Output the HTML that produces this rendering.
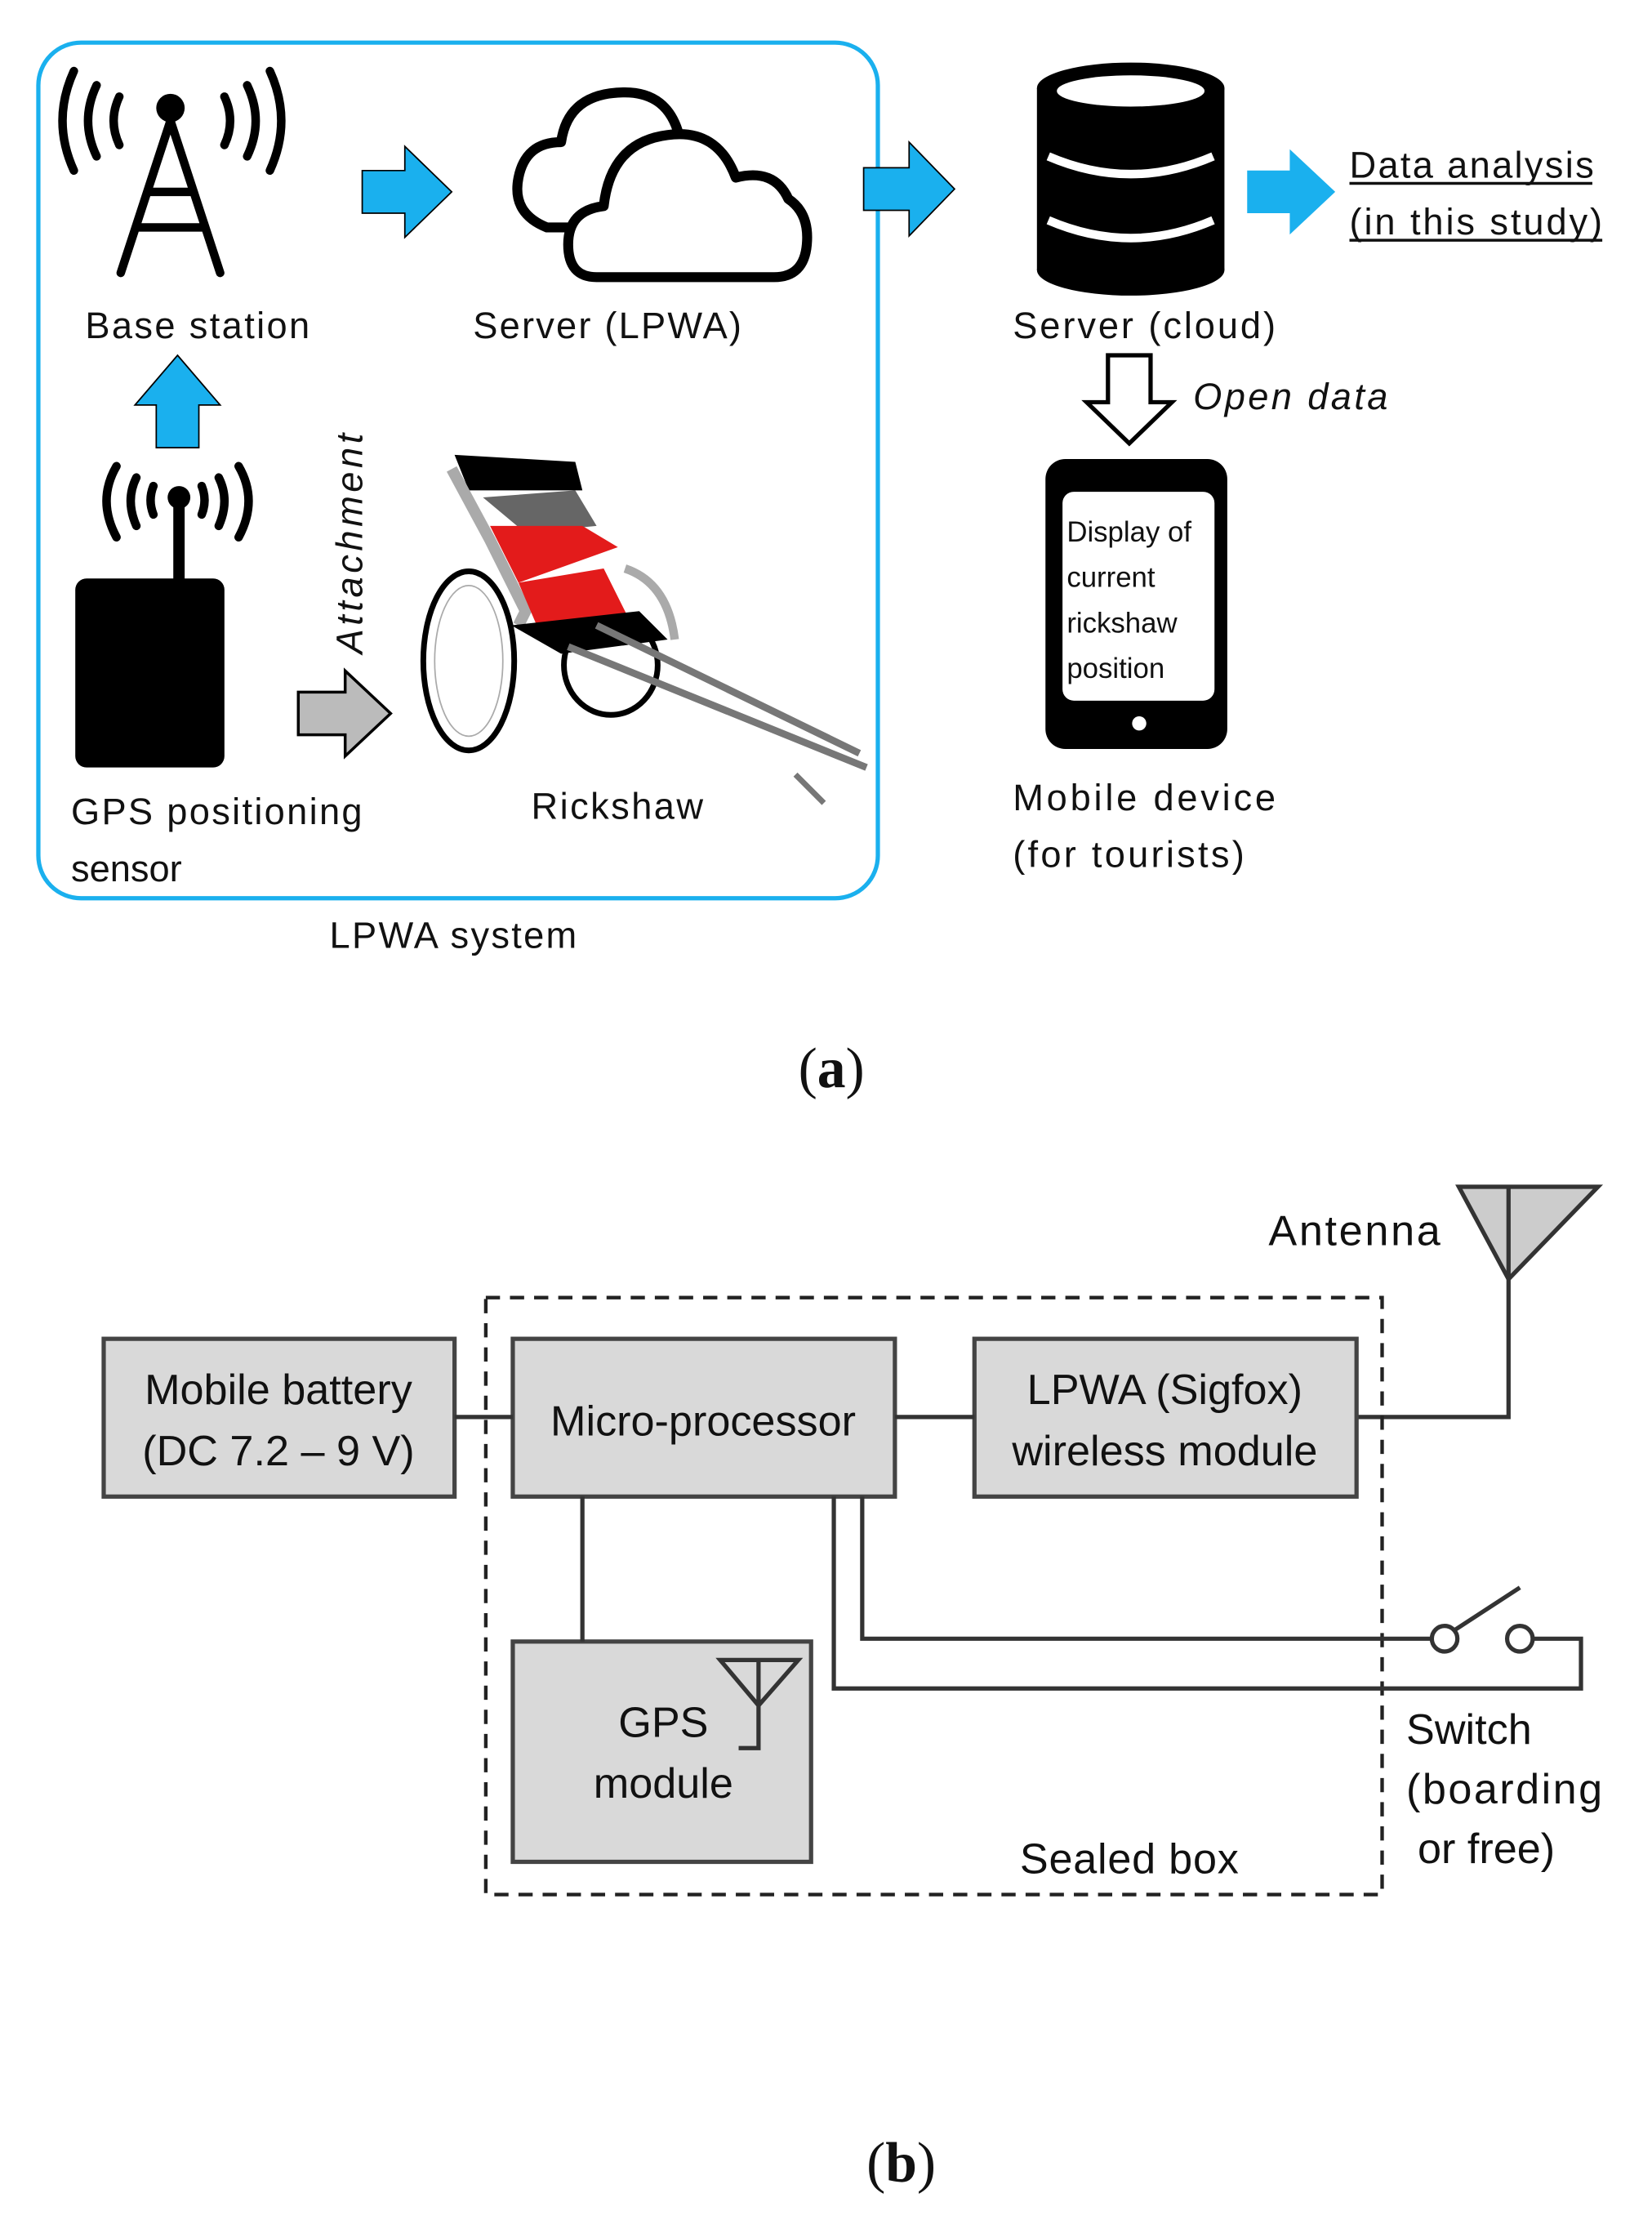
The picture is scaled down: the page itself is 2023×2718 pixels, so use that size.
<!DOCTYPE html>
<html><head><meta charset="utf-8"><style>
html,body{margin:0;padding:0;background:#fff;}
svg{display:block;}
text{font-family:"Liberation Sans",sans-serif;fill:#111;}
</style></head><body>
<svg width="2023" height="2718" viewBox="0 0 1163 1562" preserveAspectRatio="none" xmlns="http://www.w3.org/2000/svg">
<rect x="27" y="30" width="591" height="602" rx="30" fill="none" stroke="#1ab0ee" stroke-width="3"/>
<g fill="none" stroke="#000" stroke-width="6" stroke-linecap="round">
<path d="M52 50 Q36 85 52 120"/><path d="M68 60 Q56 85 68 110"/><path d="M84 68 Q76 85 84 102"/>
<path d="M190 50 Q206 85 190 120"/><path d="M174 60 Q186 85 174 110"/><path d="M158 68 Q166 85 158 102"/>
<path d="M120 85 L85 192 M120 85 L155 192 M104 135 L136 135 M96 160 L144 160"/>
</g>
<circle cx="120" cy="76" r="10" fill="#000"/>
<text x="60" y="238" font-size="26" textLength="158">Base station</text>
<path d="M255 120 H285 V103 L318 135 L285 167 V150 H255 Z" fill="#1ab0ee" stroke="#000" stroke-width="1"/>
<path d="M608 118 H640 V100 L672 133 L640 166 V148 H608 Z" fill="#1ab0ee" stroke="#000" stroke-width="1"/>
<path d="M878 120 H908 V105 L940 135 L908 165 V150 H878 Z" fill="#1ab0ee"/>
<path d="M110 315 V285 H95 L125 250 L155 285 H140 V315 Z" fill="#1ab0ee" stroke="#000" stroke-width="1"/>
<g fill="#fff" stroke="#000" stroke-width="7" stroke-linejoin="round">
<path d="M385 160 Q360 150 365 125 Q370 100 395 100 Q400 65 440 65 Q470 65 478 95 L478 160 Z"/>
<path d="M420 195 Q400 195 400 172 Q400 148 425 145 Q430 100 470 95 Q505 90 518 125 Q545 118 555 140 Q570 150 568 172 Q566 195 545 195 Z"/>
</g>
<text x="333" y="238" font-size="26" textLength="189">Server (LPWA)</text>
<rect x="730" y="62" width="132" height="128" fill="#000"/>
<ellipse cx="796" cy="62" rx="66" ry="18" fill="#000"/>
<ellipse cx="796" cy="190" rx="66" ry="18" fill="#000"/>
<ellipse cx="796" cy="64" rx="52" ry="11" fill="#fff"/>
<path d="M738 110 Q796 135 854 110" fill="none" stroke="#fff" stroke-width="6"/>
<path d="M738 155 Q796 180 854 155" fill="none" stroke="#fff" stroke-width="6"/>
<text x="950" y="125" font-size="26" textLength="172">Data analysis</text>
<text x="950" y="165" font-size="26" textLength="178">(in this study)</text>
<line x1="950" y1="129" x2="1121" y2="129" stroke="#111" stroke-width="2"/>
<line x1="950" y1="169" x2="1128" y2="169" stroke="#111" stroke-width="2"/>
<text x="713" y="238" font-size="26" textLength="185">Server (cloud)</text>
<path d="M780 250 H810 V283 H825 L795 312 L765 283 H780 Z" fill="#fff" stroke="#000" stroke-width="3"/>
<text x="840" y="288" font-size="26" font-style="italic" textLength="137">Open data</text>
<rect x="736" y="323" width="128" height="204" rx="14" fill="#000"/>
<rect x="748" y="346" width="107" height="147" rx="8" fill="#fff"/>
<circle cx="802" cy="509" r="5" fill="#fff"/>
<text x="751" y="381" font-size="20">Display of</text>
<text x="751" y="413" font-size="20">current</text>
<text x="751" y="445" font-size="20">rickshaw</text>
<text x="751" y="477" font-size="20">position</text>
<text x="713" y="570" font-size="26" textLength="185">Mobile device</text>
<text x="713" y="610" font-size="26" textLength="163">(for tourists)</text>
<g fill="none" stroke="#000" stroke-width="6" stroke-linecap="round">
<path d="M82 328 Q68 352 82 378"/><path d="M96 336 Q88 352 96 370"/><path d="M108 342 Q104 352 108 362"/>
<path d="M168 328 Q182 352 168 378"/><path d="M154 336 Q162 352 154 370"/><path d="M142 342 Q146 352 142 362"/>
</g>
<circle cx="126" cy="350" r="8" fill="#000"/>
<rect x="122" y="352" width="8" height="56" fill="#000"/>
<rect x="53" y="407" width="105" height="133" rx="8" fill="#000"/>
<text x="50" y="580" font-size="26" textLength="205">GPS positioning</text>
<text x="50" y="620" font-size="26">sensor</text>
<text transform="translate(255,460) rotate(-90)" font-size="26" font-style="italic" textLength="155">Attachment</text>
<path d="M210 487 H243 V472 L275 502 L243 532 V517 H210 Z" fill="#bbb" stroke="#000" stroke-width="2"/>
<g>
<ellipse cx="330" cy="465" rx="32" ry="63" fill="#fff" stroke="#000" stroke-width="4"/>
<ellipse cx="330" cy="465" rx="24" ry="53" fill="none" stroke="#aaa" stroke-width="1"/>
<ellipse cx="430" cy="468" rx="33" ry="35" fill="none" stroke="#000" stroke-width="4"/>
<path d="M320 320 L405 325 L410 345 L330 345 Z" fill="#000"/>
<path d="M318 330 L345 380 L370 430 L365 440" fill="none" stroke="#aaa" stroke-width="8"/>
<path d="M340 350 L405 345 L420 370 L370 375 Z" fill="#666"/>
<path d="M345 370 L410 370 L435 385 L365 410 Z" fill="#e31b1b"/>
<path d="M365 410 L425 400 L445 440 L380 445 Z" fill="#e31b1b"/>
<path d="M360 440 L450 430 L470 450 L395 460 Z" fill="#000"/>
<path d="M400 455 L610 540 M420 440 L605 530" stroke="#777" stroke-width="5" fill="none"/>
<path d="M560 545 L580 565" stroke="#777" stroke-width="4"/>
<path d="M440 400 Q470 410 475 450" fill="none" stroke="#aaa" stroke-width="6"/>
</g>
<text x="374" y="576" font-size="26" textLength="121">Rickshaw</text>
<text x="232" y="667" font-size="26" textLength="174">LPWA system</text>
<text x="562" y="765" font-size="40" style="font-family:'Liberation Serif',serif">(<tspan font-weight="bold">a</tspan>)</text>

<path d="M1027 835 L1125 835 L1062 900 Z" fill="#ccc" stroke="#333" stroke-width="3"/>
<path d="M1062 835 V997 H955" fill="none" stroke="#333" stroke-width="3"/>
<text x="893" y="876" font-size="30" textLength="121">Antenna</text>
<rect x="342" y="913" width="631" height="420" fill="none" stroke="#222" stroke-width="2.5" stroke-dasharray="10,7"/>
<g fill="#d9d9d9" stroke="#444" stroke-width="3">
<rect x="73" y="942" width="247" height="111"/>
<rect x="361" y="942" width="269" height="111"/>
<rect x="686" y="942" width="269" height="111"/>
<rect x="361" y="1155" width="210" height="155"/>
</g>
<g fill="none" stroke="#333" stroke-width="3">
<path d="M320 997 H361 M630 997 H686 M410 1053 V1155"/>
<path d="M587 1053 V1188 H1113 V1153 H1079"/>
<path d="M607 1053 V1153 H1008"/>
<circle cx="1017" cy="1153" r="9"/><circle cx="1070" cy="1153" r="9"/>
<path d="M1024 1147 L1070 1117"/>
<path d="M507 1168 L562 1168 L534 1200 Z M534 1168 V1230 H520"/>
</g>
<g font-size="30" text-anchor="middle">
<text x="196" y="988">Mobile battery</text>
<text x="196" y="1031">(DC 7.2 – 9 V)</text>
<text x="495" y="1010">Micro-processor</text>
<text x="820" y="988">LPWA (Sigfox)</text>
<text x="820" y="1031">wireless module</text>
<text x="467" y="1222">GPS</text>
<text x="467" y="1265">module</text>
</g>
<text x="990" y="1227" font-size="30">Switch</text>
<text x="990" y="1269" font-size="30" textLength="138">(boarding</text>
<text x="998" y="1311" font-size="30">or free)</text>
<text x="718" y="1318" font-size="30" textLength="154">Sealed box</text>
<text x="610" y="1535" font-size="40" style="font-family:'Liberation Serif',serif">(<tspan font-weight="bold">b</tspan>)</text>
</svg>
</body></html>
